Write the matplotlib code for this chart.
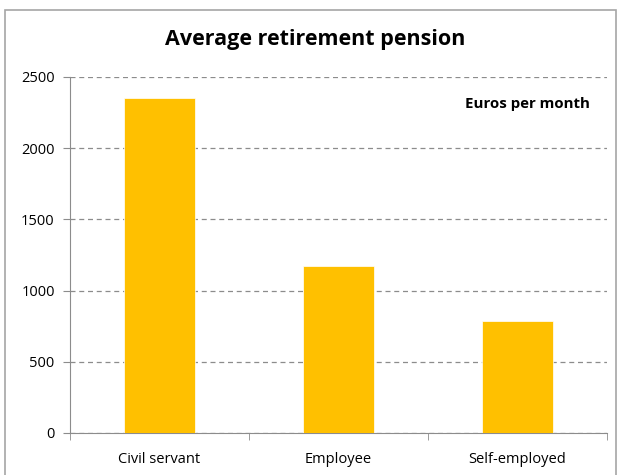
import numpy as np
import matplotlib
matplotlib.use('Agg')
import matplotlib.pyplot as plt
from matplotlib.patches import Rectangle

categories = ['Civil servant', 'Employee', 'Self-employed']
pension = [2350, 1175, 785]
y_ticks = [0, 500, 1000, 1500, 2000, 2500]

plt.rcParams['font.family'] = ['Open Sans', 'DejaVu Sans']

fig = plt.figure(figsize=(6.19, 4.75), dpi=100)
fig.patch.set_facecolor('white')

# chart frame
fig.patches.append(Rectangle((5 / 619, -0.05), 611 / 619, 1.05 - 10 / 475,
                             transform=fig.transFigure, fill=False,
                             edgecolor='#a6a6a6', linewidth=1.2))

ax = fig.add_axes([70 / 619, 1 - 433 / 475, 537 / 619, 356 / 475])
x = np.arange(len(categories))
ax.bar(x, pension, width=0.4, color='#ffc000', edgecolor='white', linewidth=0.5, zorder=3)

ax.set_xlim(-0.5, len(categories) - 0.5)
ax.set_ylim(0, 2500)
ax.set_yticks(y_ticks)
ax.yaxis.grid(True, linestyle=(0, (4, 3)), color='#8c8c8c', linewidth=0.9, zorder=0)
ax.set_axisbelow(True)

ax.set_xticks(x)
ax.set_xticklabels(categories, fontsize=10.5)
ax.set_xticks(np.arange(len(categories) + 1) - 0.5, minor=True)
ax.tick_params(axis='x', which='major', length=0, pad=14)
ax.tick_params(axis='x', which='minor', length=5, color='#8c8c8c', direction='out')
ax.tick_params(axis='y', length=5, color='#8c8c8c', direction='out', labelsize=10.5, pad=6)

for side in ['top', 'right']:
    ax.spines[side].set_visible(False)
for side in ['left', 'bottom']:
    ax.spines[side].set_color('#8c8c8c')

fig.text(315 / 619, 1 - 40 / 475, 'Average retirement pension', ha='center', va='center',
         fontsize=15.5, fontweight='bold')
ax.text(0.968, 0.924, 'Euros per month', transform=ax.transAxes, ha='right', va='center',
        fontsize=10.8, fontweight='bold')

fig.savefig('out.png', dpi=100)
